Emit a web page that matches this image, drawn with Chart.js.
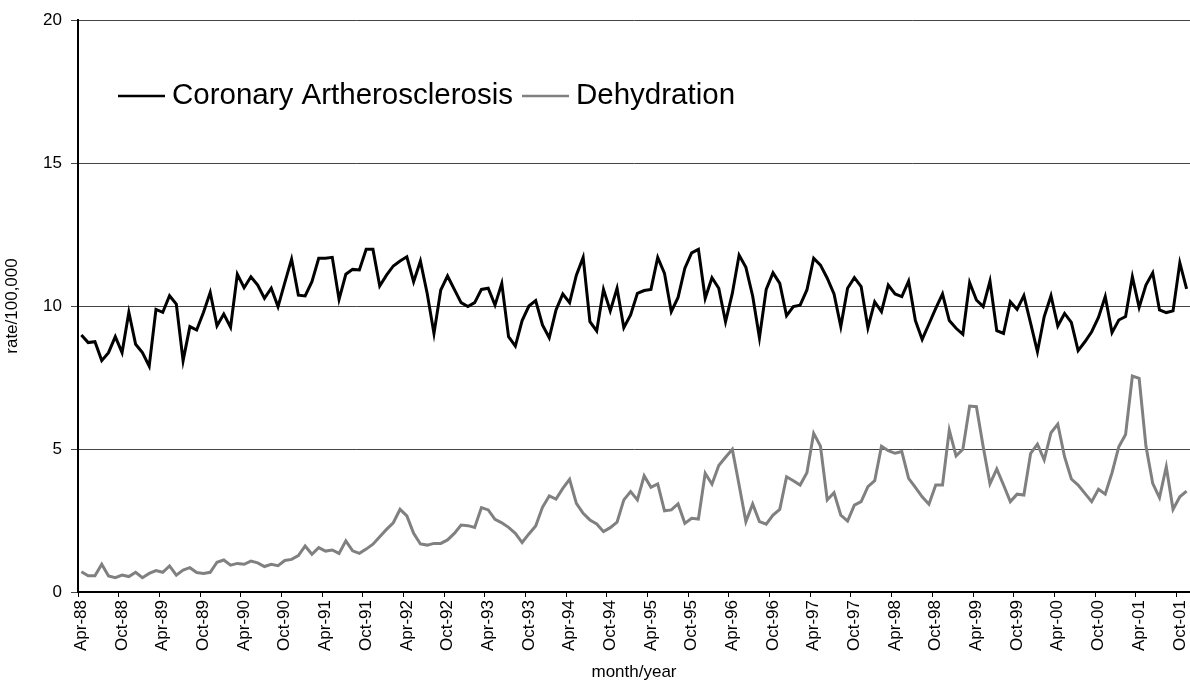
<!DOCTYPE html>
<html>
<head>
<meta charset="utf-8">
<script src="https://cdn.jsdelivr.net/npm/chart.js@4.4.1/dist/chart.umd.min.js"></script>
<style>
  html, body { margin: 0; padding: 0; background: #fff; }
  canvas { display: block; }
</style>
</head>
<body>
<canvas id="chart" width="1190" height="683"></canvas>
<script>
/* monthly rates, Apr-88 .. Nov-01 */
const MONTHS = ['Jan','Feb','Mar','Apr','May','Jun','Jul','Aug','Sep','Oct','Nov','Dec'];
const START_MONTH = 3, START_YEAR = 1988, N_MONTHS = 164;
const TICK_LABELS = ['Apr-88','Oct-88','Apr-89','Oct-89','Apr-90','Oct-90','Apr-91','Oct-91','Apr-92','Oct-92',
  'Apr-93','Oct-93','Apr-94','Oct-94','Apr-95','Oct-95','Apr-96','Oct-96','Apr-97','Oct-97',
  'Apr-98','Oct-98','Apr-99','Oct-99','Apr-00','Oct-00','Apr-01','Oct-01'];
const Y_TICKS = [0, 5, 10, 15, 20];

const coronary = [
  8.99, 8.72, 8.75, 8.09, 8.37, 8.93, 8.37, 9.78, 8.66, 8.37, 7.90, 9.88,
  9.78, 10.36, 10.07, 8.09, 9.28, 9.16, 9.77, 10.47, 9.31, 9.72, 9.26, 11.11,
  10.64, 11.02, 10.73, 10.27, 10.62, 9.98, 10.82, 11.64, 10.38, 10.35, 10.85, 11.67,
  11.67, 11.70, 10.23, 11.11, 11.28, 11.26, 11.98, 11.98, 10.70, 11.08, 11.40, 11.57,
  11.72, 10.85, 11.57, 10.44, 9.04, 10.56, 11.05, 10.58, 10.12, 9.98, 10.12, 10.58,
  10.62, 10.03, 10.79, 8.93, 8.60, 9.49, 10.00, 10.19, 9.34, 8.89, 9.86, 10.42,
  10.12, 11.08, 11.70, 9.45, 9.13, 10.58, 9.83, 10.62, 9.24, 9.69, 10.44, 10.54,
  10.58, 11.70, 11.14, 9.80, 10.30, 11.32, 11.86, 11.98, 10.27, 10.99, 10.62, 9.45,
  10.44, 11.78, 11.35, 10.35, 8.89, 10.58, 11.16, 10.79, 9.66, 9.98, 10.03, 10.56,
  11.67, 11.43, 10.97, 10.42, 9.28, 10.62, 10.99, 10.68, 9.24, 10.15, 9.80, 10.73,
  10.42, 10.33, 10.87, 9.49, 8.83, 9.37, 9.92, 10.42, 9.49, 9.22, 9.01, 10.82,
  10.21, 9.98, 10.87, 9.14, 9.04, 10.15, 9.88, 10.36, 9.39, 8.40, 9.63, 10.36,
  9.30, 9.74, 9.43, 8.44, 8.75, 9.10, 9.60, 10.33, 9.07, 9.51, 9.63, 11.02,
  9.95, 10.73, 11.16, 9.86, 9.77, 9.83, 11.51, 10.60
];

const dehydration = [
  0.71, 0.57, 0.57, 0.97, 0.56, 0.50, 0.59, 0.54, 0.69, 0.50, 0.65, 0.75,
  0.69, 0.91, 0.59, 0.77, 0.85, 0.68, 0.65, 0.69, 1.04, 1.12, 0.94, 1.00,
  0.97, 1.08, 1.02, 0.89, 0.97, 0.92, 1.10, 1.14, 1.27, 1.61, 1.32, 1.55,
  1.43, 1.47, 1.35, 1.79, 1.44, 1.35, 1.50, 1.67, 1.93, 2.19, 2.42, 2.89,
  2.66, 2.05, 1.68, 1.64, 1.70, 1.70, 1.82, 2.05, 2.34, 2.32, 2.26, 2.95,
  2.87, 2.54, 2.42, 2.26, 2.05, 1.73, 2.03, 2.31, 2.96, 3.36, 3.25, 3.62,
  3.94, 3.10, 2.75, 2.52, 2.38, 2.11, 2.25, 2.44, 3.22, 3.51, 3.22, 4.06,
  3.66, 3.78, 2.84, 2.87, 3.08, 2.40, 2.58, 2.55, 4.15, 3.77, 4.42, 4.71,
  4.99, 3.74, 2.46, 3.08, 2.46, 2.37, 2.69, 2.89, 4.03, 3.89, 3.74, 4.17,
  5.55, 5.10, 3.22, 3.47, 2.69, 2.48, 3.04, 3.16, 3.68, 3.89, 5.10, 4.94,
  4.85, 4.91, 3.97, 3.66, 3.33, 3.07, 3.74, 3.74, 5.66, 4.76, 4.99, 6.50,
  6.48, 5.08, 3.78, 4.30, 3.74, 3.16, 3.42, 3.39, 4.85, 5.17, 4.62, 5.57,
  5.87, 4.73, 3.95, 3.74, 3.45, 3.16, 3.59, 3.42, 4.17, 5.08, 5.51, 7.55,
  7.47, 5.10, 3.80, 3.30, 4.38, 2.89, 3.33, 3.53
];

const categories = [];
for (let i = 0; i < N_MONTHS; i++) {
  const m = (START_MONTH + i) % 12;
  const y = START_YEAR + Math.floor((START_MONTH + i) / 12);
  categories.push(MONTHS[m] + '-' + String(y).slice(2));
}

const FONT = '"Liberation Sans", Arial, sans-serif';

// legend sits inside the plot, top-left
const insideLegend = {
  id: 'insideLegend',
  afterDraw(chart) {
    const ctx = chart.ctx;
    let x = 118;
    const y = 96;
    ctx.save();
    ctx.font = '29.5px ' + FONT;
    ctx.textBaseline = 'middle';
    chart.data.datasets.forEach(ds => {
      ctx.strokeStyle = ds.borderColor;
      ctx.lineWidth = 2.5;
      ctx.beginPath();
      ctx.moveTo(x, y);
      ctx.lineTo(x + 47, y);
      ctx.stroke();
      x += 54;
      ctx.fillStyle = '#000';
      ctx.fillText(ds.label, x, y);
      x += ctx.measureText(ds.label).width + 9;
    });
    ctx.restore();
  }
};

new Chart(document.getElementById('chart').getContext('2d'), {
  type: 'line',
  data: {
    labels: categories,
    datasets: [
      { label: 'Coronary Artherosclerosis', data: coronary, borderColor: '#000000', borderWidth: 3, pointRadius: 0, tension: 0 },
      { label: 'Dehydration', data: dehydration, borderColor: '#808080', borderWidth: 3, pointRadius: 0, tension: 0 },
    ],
  },
  options: {
    responsive: false,
    animation: false,
    devicePixelRatio: 1,
    layout: { padding: { top: 20, right: 0, left: 0, bottom: 0 } },
    plugins: { legend: { display: false }, tooltip: { enabled: false } },
    scales: {
      x: {
        type: 'category',
        offset: true,
        afterFit: s => { s.height = 91; s.paddingLeft = 0; s.paddingRight = 0; },
        grid: {
          offset: true,
          drawOnChartArea: false,
          drawTicks: true,
          tickLength: 5,
          color: ctx => (ctx.index % 6 === 0 ? '#000' : 'rgba(0,0,0,0)'),
        },
        border: { display: true, color: '#000', width: 2 },
        ticks: {
          autoSkip: false,
          maxRotation: 90,
          minRotation: 90,
          padding: 3,
          color: '#000',
          font: { family: FONT, size: 17 },
          callback: (v, i) => (TICK_LABELS.includes(categories[i]) ? categories[i] : ''),
        },
        title: { display: true, text: 'month/year', color: '#000', font: { family: FONT, size: 17 }, padding: 0 },
      },
      y: {
        min: 0,
        max: 20,
        afterFit: s => { s.width = 78; },
        afterBuildTicks: s => { s.ticks = Y_TICKS.map(v => ({ value: v })); },
        grid: { color: '#444', lineWidth: 1, tickLength: 7, drawTicks: true },
        border: { display: true, color: '#000', width: 2 },
        ticks: { padding: 9, color: '#000', font: { family: FONT, size: 17 } },
        title: { display: true, text: 'rate/100,000', color: '#000', font: { family: FONT, size: 17 }, padding: 2 },
      },
    },
  },
  plugins: [insideLegend],
});
</script>
</body>
</html>
